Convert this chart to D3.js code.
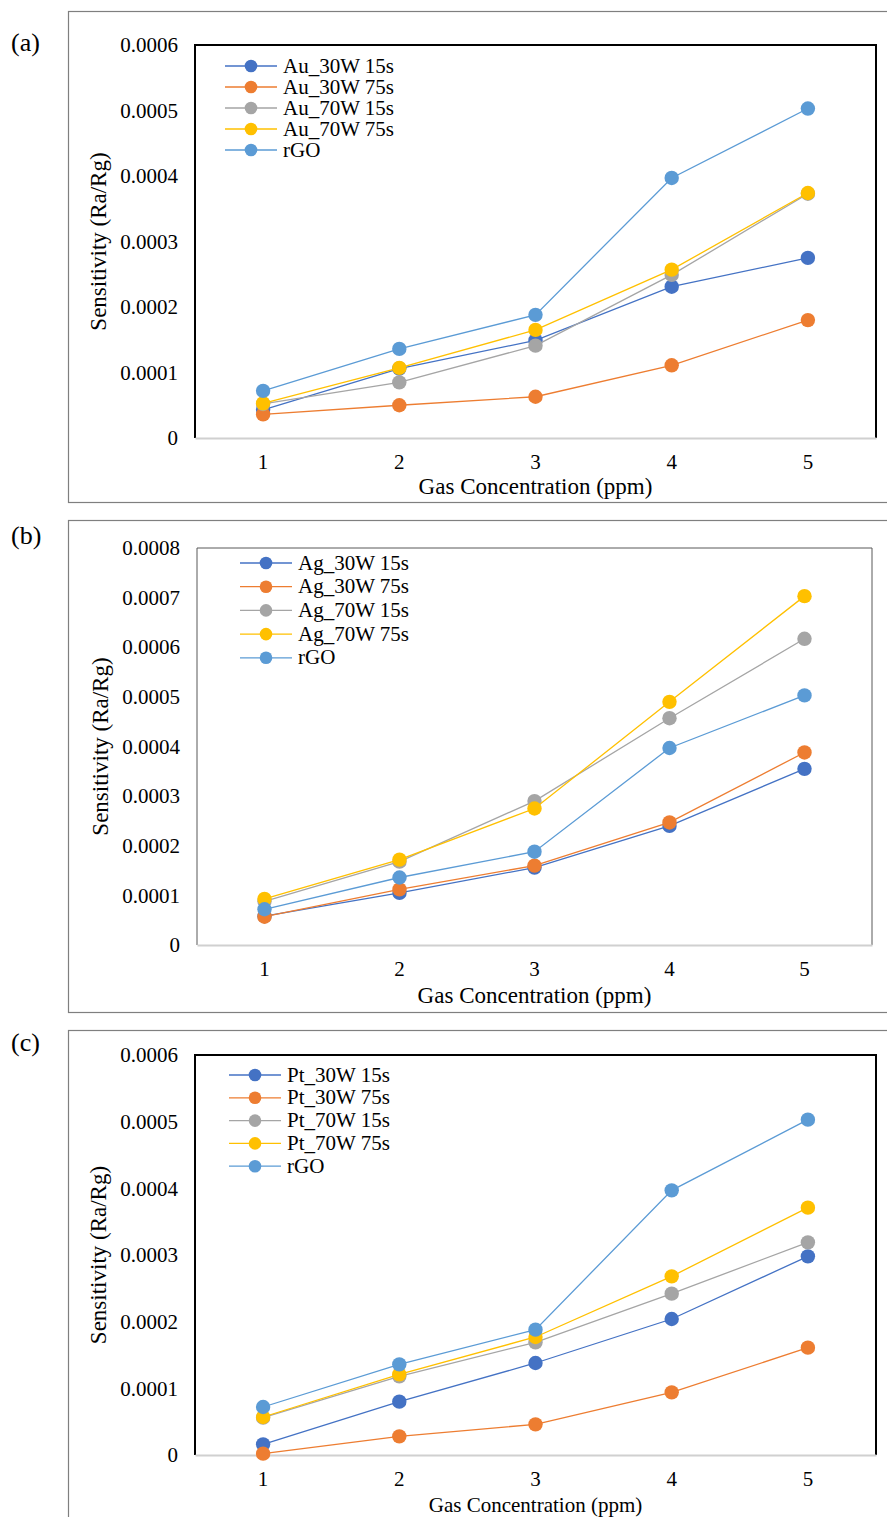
<!DOCTYPE html>
<html>
<head>
<meta charset="utf-8">
<script src="https://cdn.jsdelivr.net/npm/d3@7"></script>
<style>
  body { margin: 0; background: #fff; }
  svg text { font-family: "Liberation Serif", "Times New Roman", serif; fill: #000; }
</style>
</head>
<body>
<svg id="chart" width="887" height="1517"></svg>
<script>
// concentrations (ppm)
const concentrations = [1, 2, 3, 4, 5];
const seriesColors = ['#4472C4', '#ED7D31', '#A5A5A5', '#FFC000', '#5B9BD5'];

// panel (a) Au
const auNames = ['Au_30W 15s', 'Au_30W 75s', 'Au_70W 15s', 'Au_70W 75s', 'rGO'];
const au30w15 = [0.0000430, 0.0001060, 0.0001490, 0.0002310, 0.0002750];
const au30w75 = [0.0000360, 0.0000500, 0.0000630, 0.0001110, 0.0001800];
const au70w15 = [0.0000520, 0.0000850, 0.0001410, 0.0002490, 0.0003730];
const au70w75 = [0.0000530, 0.0001070, 0.0001650, 0.0002570, 0.0003740];
const rgo     = [0.0000720, 0.0001360, 0.0001880, 0.0003970, 0.0005030];
const auTicks = [0, 0.0001, 0.0002, 0.0003, 0.0004, 0.0005, 0.0006];

// panel (b) Ag
const agNames = ['Ag_30W 15s', 'Ag_30W 75s', 'Ag_70W 15s', 'Ag_70W 75s', 'rGO'];
const ag30w15 = [0.0000580, 0.0001050, 0.0001560, 0.0002400, 0.0003550];
const ag30w75 = [0.0000570, 0.0001120, 0.0001600, 0.0002470, 0.0003880];
const ag70w15 = [0.0000880, 0.0001680, 0.0002900, 0.0004570, 0.0006170];
const ag70w75 = [0.0000930, 0.0001720, 0.0002750, 0.0004900, 0.0007030];
const agTicks = [0, 0.0001, 0.0002, 0.0003, 0.0004, 0.0005, 0.0006, 0.0007, 0.0008];

// panel (c) Pt
const ptNames = ['Pt_30W 15s', 'Pt_30W 75s', 'Pt_70W 15s', 'Pt_70W 75s', 'rGO'];
const pt30w15 = [0.0000160, 0.0000800, 0.0001380, 0.0002040, 0.0002980];
const pt30w75 = [0.0000020, 0.0000280, 0.0000460, 0.0000940, 0.0001610];
const pt70w15 = [0.0000560, 0.0001180, 0.0001690, 0.0002420, 0.0003190];
const pt70w75 = [0.0000570, 0.0001210, 0.0001770, 0.0002680, 0.0003710];
const ptTicks = [0, 0.0001, 0.0002, 0.0003, 0.0004, 0.0005, 0.0006];

const svg = d3.select('#chart');

const panels = [
  {tag: '(a)', names: auNames, values: [au30w15, au30w75, au70w15, au70w75, rgo], ticks: auTicks,
   frame: {x: 68, y: 11, h: 491}, plot: {l: 195, t: 45, r: 876, b: 438}, border: '#000', bw: 2,
   legend: {x: 225, y: 66, dy: 21}, xTitleY: 494, xTitleSize: 23, yTitleX: 106, tagY: 51},
  {tag: '(b)', names: agNames, values: [ag30w15, ag30w75, ag70w15, ag70w75, rgo], ticks: agTicks,
   frame: {x: 68, y: 520, h: 492}, plot: {l: 197, t: 548, r: 872, b: 945}, border: '#595959', bw: 1,
   legend: {x: 240, y: 563, dy: 23.7}, xTitleY: 1003, xTitleSize: 23, yTitleX: 108, tagY: 544},
  {tag: '(c)', names: ptNames, values: [pt30w15, pt30w75, pt70w15, pt70w75, rgo], ticks: ptTicks,
   frame: {x: 68, y: 1030, h: 520}, plot: {l: 195, t: 1055, r: 876, b: 1455}, border: '#000', bw: 2,
   legend: {x: 229, y: 1075, dy: 22.8}, xTitleY: 1512, xTitleSize: 21, yTitleX: 106, tagY: 1051}
];

panels.forEach(p => {
  const g = svg.append('g');

  // outer chart frame
  g.append('rect')
    .attr('x', p.frame.x + 0.5).attr('y', p.frame.y + 0.5)
    .attr('width', 900 - p.frame.x).attr('height', p.frame.h)
    .attr('fill', 'none').attr('stroke', '#7f7f7f').attr('stroke-width', 1.2);

  g.append('text')
    .attr('x', 11).attr('y', p.tagY)
    .style('font-size', '26px')
    .text(p.tag);

  const x = d3.scaleBand().domain(concentrations).range([p.plot.l, p.plot.r]);
  const y = d3.scaleLinear().domain([0, d3.max(p.ticks)]).range([p.plot.b, p.plot.t]);

  // plot area border (left, top, right)
  g.append('path')
    .attr('d', `M${p.plot.l},${p.plot.b}V${p.plot.t}H${p.plot.r}V${p.plot.b}`)
    .attr('fill', 'none').attr('stroke', p.border).attr('stroke-width', p.bw);

  // y axis
  const yAxis = d3.axisLeft(y).tickValues(p.ticks).tickSize(0).tickPadding(17)
    .tickFormat(d => d === 0 ? '0' : d3.format('.4f')(d));
  g.append('g').attr('transform', `translate(${p.plot.l},0)`).call(yAxis)
    .call(s => s.select('.domain').remove())
    .selectAll('text').style('font-size', '21px').style('font-family', '"Liberation Serif", serif');

  // x axis
  const xAxis = d3.axisBottom(x).tickSize(0).tickPadding(16);
  g.append('g').attr('transform', `translate(0,${p.plot.b})`).call(xAxis)
    .call(s => s.select('.domain').attr('stroke', '#d0d0d0').attr('stroke-width', 2))
    .selectAll('text').style('font-size', '21px').style('font-family', '"Liberation Serif", serif');

  // axis titles
  g.append('text')
    .attr('x', (p.plot.l + p.plot.r) / 2).attr('y', p.xTitleY)
    .attr('text-anchor', 'middle')
    .style('font-size', p.xTitleSize + 'px')
    .text('Gas Concentration (ppm)');

  g.append('text')
    .attr('transform', `translate(${p.yTitleX},${(p.plot.t + p.plot.b) / 2}) rotate(-90)`)
    .attr('text-anchor', 'middle')
    .style('font-size', '23px')
    .text('Sensitivity (Ra/Rg)');

  const line = d3.line().x((d, i) => x(concentrations[i]) + x.bandwidth() / 2).y(d => y(d));

  // series
  p.values.forEach((vals, k) => {
    const sg = g.append('g');
    sg.append('path')
      .attr('d', line(vals))
      .attr('fill', 'none').attr('stroke', seriesColors[k]).attr('stroke-width', 1.3);
    sg.selectAll('circle').data(vals).join('circle')
      .attr('cx', (d, i) => x(concentrations[i]) + x.bandwidth() / 2)
      .attr('cy', d => y(d))
      .attr('r', 7.2)
      .attr('fill', seriesColors[k]);
  });

  // legend
  const lg = g.append('g');
  p.names.forEach((name, k) => {
    const ly = p.legend.y + k * p.legend.dy;
    lg.append('line')
      .attr('x1', p.legend.x).attr('x2', p.legend.x + 52)
      .attr('y1', ly).attr('y2', ly)
      .attr('stroke', seriesColors[k]).attr('stroke-width', 1.3);
    lg.append('circle')
      .attr('cx', p.legend.x + 26).attr('cy', ly).attr('r', 6.3)
      .attr('fill', seriesColors[k]);
    lg.append('text')
      .attr('x', p.legend.x + 58).attr('y', ly + 6.5)
      .style('font-size', '21px')
      .text(name);
  });
});
</script>
</body>
</html>
